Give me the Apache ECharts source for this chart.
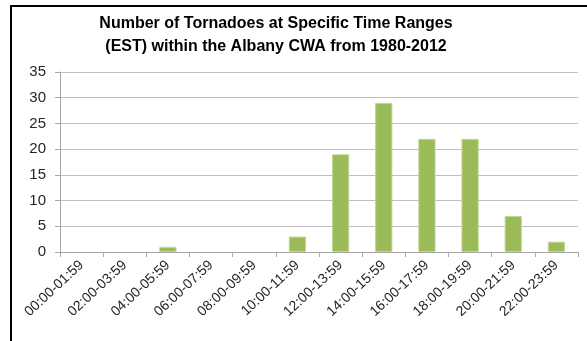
<!DOCTYPE html>
<html>
<head>
<meta charset="utf-8">
<script src="https://cdn.jsdelivr.net/npm/echarts@6/dist/echarts.min.js"></script>
<style>
  html, body { margin: 0; padding: 0; background: #fff; }
  #chart { width: 587px; height: 341px; }
</style>
</head>
<body>
<div id="chart"></div>
<script>
// Time ranges (EST) and tornado counts per range, 1980-2012
const timeRanges = [
  '00:00-01:59', '02:00-03:59', '04:00-05:59', '06:00-07:59',
  '08:00-09:59', '10:00-11:59', '12:00-13:59', '14:00-15:59',
  '16:00-17:59', '18:00-19:59', '20:00-21:59', '22:00-23:59'
];
const tornadoCounts = [0, 0, 1, 0, 0, 3, 19, 29, 22, 22, 7, 2];
const yTicks = { min: 0, max: 35, interval: 5 };

// Empty ranges get no outline so nothing shows on the axis
const barData = tornadoCounts.map(v => ({
  value: v,
  itemStyle: { borderWidth: v > 0 ? 1 : 0 }
}));

const chart = echarts.init(document.getElementById('chart'));
chart.setOption({
  animation: false,
  backgroundColor: '#ffffff',
  textStyle: { fontFamily: 'Liberation Sans, Arial, sans-serif' },
  title: {
    text: 'Number of Tornadoes at Specific Time Ranges\n(EST) within the Albany CWA from 1980-2012',
    left: 271,
    textAlign: 'center',
    top: 7,
    textStyle: {
      fontFamily: 'Liberation Sans, Arial, sans-serif',
      fontSize: 16,
      fontWeight: 'bold',
      color: '#000000',
      lineHeight: 23
    }
  },
  grid: { left: 60, right: 9, top: 72, bottom: 89 },
  xAxis: {
    type: 'category',
    data: timeRanges,
    boundaryGap: true,
    axisLine: { lineStyle: { color: '#a6a6a6' } },
    axisTick: { show: true, length: 5, lineStyle: { color: '#a6a6a6' } },
    axisLabel: {
      rotate: 43,
      interval: 0,
      color: '#262626',
      fontSize: 14,
      margin: 11
    }
  },
  yAxis: {
    type: 'value',
    min: yTicks.min,
    max: yTicks.max,
    interval: yTicks.interval,
    axisLine: { show: true, lineStyle: { color: '#a6a6a6' } },
    axisTick: { show: true, length: 5, lineStyle: { color: '#a6a6a6' } },
    axisLabel: { color: '#262626', fontSize: 15, margin: 14 },
    splitLine: { lineStyle: { color: '#bfbfbf' } }
  },
  series: [{
    type: 'bar',
    data: barData,
    barWidth: '40%',
    itemStyle: { color: '#9bbb59', borderColor: '#c3d69b' }
  }],
  graphic: [
    { type: 'line', shape: { x1: 10, y1: 6, x2: 587, y2: 6 }, style: { stroke: '#000', lineWidth: 2 } },
    { type: 'line', shape: { x1: 11, y1: 5, x2: 11, y2: 341 }, style: { stroke: '#000', lineWidth: 2 } }
  ]
});
</script>
</body>
</html>
